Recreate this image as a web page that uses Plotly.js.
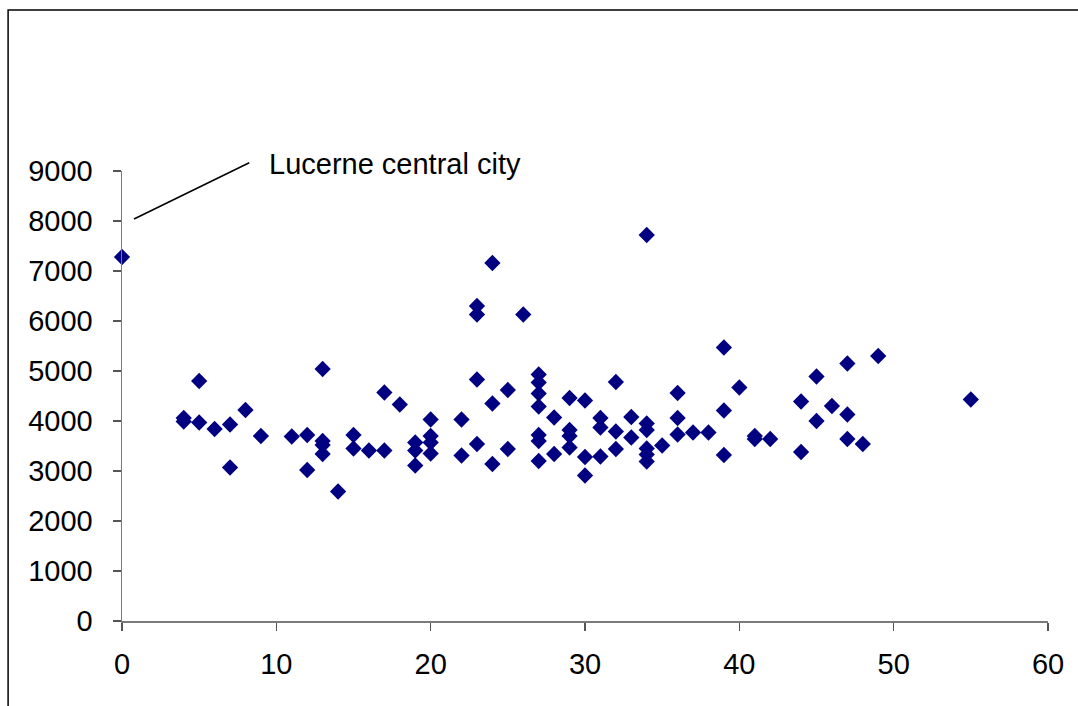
<!DOCTYPE html>
<html>
<head>
<meta charset="utf-8">
<script src="https://cdn.plot.ly/plotly-3.0.1.min.js"></script>
<style>html,body{margin:0;padding:0;background:#fff;}#chart{width:1078px;height:706px;}</style>
</head>
<body>
<div id="chart"></div>
<script>
// Distance (x) and value (y) for each location
const distance = [
  0,
  4, 4,
  5, 5,
  6,
  7, 7,
  8,
  9,
  11,
  12, 12,
  13, 13, 13, 13,
  14,
  15, 15,
  16,
  17, 17,
  18,
  19, 19, 19,
  20, 20, 20, 20,
  22, 22,
  23, 23, 23, 23,
  24, 24, 24,
  25, 25,
  26,
  27, 27, 27, 27, 27, 27, 27,
  28, 28,
  29, 29, 29, 29,
  30, 30, 30,
  31, 31, 31,
  32, 32, 32,
  33, 33,
  34, 34, 34, 34, 34, 34,
  35,
  36, 36, 36,
  37,
  38,
  39, 39, 39,
  40,
  41, 41,
  42,
  44, 44,
  45, 45,
  46,
  47, 47, 47,
  48,
  49,
  55
];
const value = [
  7280,
  4060, 3990,
  4800, 3970,
  3840,
  3930, 3070,
  4220,
  3700,
  3690,
  3720, 3020,
  5040, 3600, 3520, 3340,
  2590,
  3720, 3450,
  3410,
  4570, 3410,
  4330,
  3570, 3410, 3110,
  4030, 3700, 3570, 3350,
  4030, 3310,
  6300, 6130, 4830, 3540,
  7160, 4350, 3140,
  4620, 3440,
  6130,
  4930, 4770, 4550, 4290, 3720, 3600, 3200,
  4070, 3340,
  4460, 3820, 3700, 3470,
  4410, 3280, 2910,
  4060, 3870, 3290,
  4780, 3790, 3440,
  4080, 3670,
  7720, 3950, 3820, 3450, 3330, 3190,
  3510,
  4560, 4060, 3730,
  3770,
  3770,
  5470, 4210, 3320,
  4670,
  3700, 3640,
  3640,
  4390, 3380,
  4890, 4000,
  4300,
  5150, 4130, 3640,
  3540,
  5300,
  4430
];
const xTicks = [0, 10, 20, 30, 40, 50, 60];
const yTicks = [0, 1000, 2000, 3000, 4000, 5000, 6000, 7000, 8000, 9000];
const calloutText = 'Lucerne central city';

const FONT = 'Liberation Sans, Arial, Helvetica, sans-serif';

const trace = {
  x: distance,
  y: value,
  type: 'scatter',
  mode: 'markers',
  cliponaxis: false,
  marker: { symbol: 'diamond', size: 12.5, color: '#000080', line: { width: 0 } },
  hoverinfo: 'x+y',
  showlegend: false
};

const axisCommon = {
  showgrid: false,
  zeroline: false,
  showline: true,
  linecolor: '#7a7a7a',
  linewidth: 1.5,
  ticks: 'outside',
  ticklen: 8,
  tickwidth: 1.2,
  tickcolor: '#555',
  tickfont: { family: FONT, size: 29, color: '#000' },
  fixedrange: true
};

const layout = {
  width: 1078,
  height: 706,
  margin: { l: 122, r: 30, t: 171, b: 85, pad: 0 },
  paper_bgcolor: '#fff',
  plot_bgcolor: '#fff',
  font: { family: FONT, color: '#000' },
  xaxis: Object.assign({}, axisCommon, {
    range: [0, 60],
    tickmode: 'array',
    tickvals: xTicks,
    ticktext: xTicks.map(String),
    ticklabelstandoff: 9
  }),
  yaxis: Object.assign({}, axisCommon, {
    range: [0, 9000],
    tickmode: 'array',
    tickvals: yTicks,
    ticktext: yTicks.map(String),
    ticklabelstandoff: 14
  }),
  shapes: [
    { type: 'rect', xref: 'paper', yref: 'paper', x0: -0.123, x1: 1.2, y0: -0.4, y1: 1.3578,
      line: { color: '#000', width: 1.5 }, fillcolor: 'rgba(0,0,0,0)', layer: 'below' },
    { type: 'line', xref: 'paper', yref: 'paper', x0: 0.013, y0: 0.8933, x1: 0.1374, y1: 1.0184,
      line: { color: '#000', width: 1.5 } }
  ],
  annotations: [
    { xref: 'paper', yref: 'paper', x: 0.157, y: 1.0156, xanchor: 'left', yanchor: 'middle',
      text: calloutText, showarrow: false, font: { family: FONT, size: 29, color: '#000' } }
  ]
};

Plotly.newPlot('chart', [trace], layout, { displayModeBar: false, staticPlot: true });
</script>
</body>
</html>
